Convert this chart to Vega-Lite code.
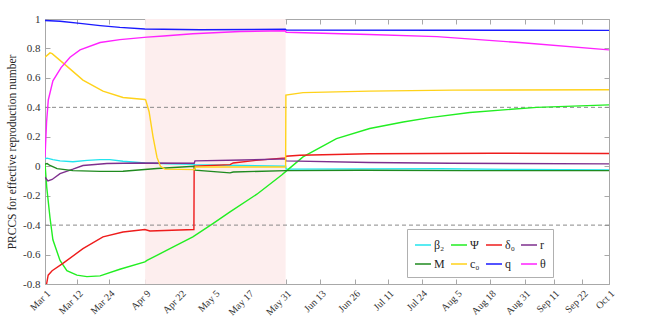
{
  "$schema": "https://vega.github.io/schema/vega-lite/v6.json",
  "width": 564,
  "height": 265,
  "autosize": {"type": "none"},
  "padding": {"left": 45, "top": 19, "right": 38, "bottom": 35},
  "config": {
    "font": "Liberation Serif",
    "view": {"stroke": "#a8a8a8", "strokeWidth": 1},
    "legend": {"columnPadding": 3, "rowPadding": 4, "padding": 7, "gridAlign": "each"},
    "axis": {
      "domain": false,
      "grid": false,
      "tickColor": "#a8a8a8",
      "tickSize": -5,
      "labelFont": "Liberation Serif",
      "labelColor": "#333333",
      "labelFontSize": 11,
      "titleFont": "Liberation Serif",
      "titleFontWeight": "normal",
      "titleColor": "#262626",
      "titleFontSize": 11.5
    }
  },
  "datasets": {
    "band": [{"a": 38, "b": 91.3}],
    "refs": [{"y": 0.4}, {"y": -0.4}],
    "lines": [
      {"s": "β₂", "d": 0, "v": 0.05}, {"s": "β₂", "d": 0.8, "v": 0.055}, {"s": "β₂", "d": 3, "v": 0.045}, {"s": "β₂", "d": 5.7, "v": 0.036}, {"s": "β₂", "d": 10.6, "v": 0.03}, {"s": "β₂", "d": 16, "v": 0.04}, {"s": "β₂", "d": 20.9, "v": 0.045}, {"s": "β₂", "d": 24.6, "v": 0.045}, {"s": "β₂", "d": 29.6, "v": 0.034}, {"s": "β₂", "d": 37.9, "v": 0.022}, {"s": "β₂", "d": 47, "v": 0.017}, {"s": "β₂", "d": 56.6, "v": 0.013}, {"s": "β₂", "d": 56.9, "v": 0.01}, {"s": "β₂", "d": 91.3, "v": 0.0}, {"s": "β₂", "d": 91.5, "v": -0.02}, {"s": "β₂", "d": 120, "v": -0.018}, {"s": "β₂", "d": 150, "v": -0.017}, {"s": "β₂", "d": 180, "v": -0.022}, {"s": "β₂", "d": 214, "v": -0.025},

      {"s": "Ψ", "d": 0, "v": 0.02}, {"s": "Ψ", "d": 0.64, "v": -0.14}, {"s": "Ψ", "d": 1.9, "v": -0.35}, {"s": "Ψ", "d": 3, "v": -0.5}, {"s": "Ψ", "d": 5.7, "v": -0.64}, {"s": "Ψ", "d": 8.3, "v": -0.71}, {"s": "Ψ", "d": 12.1, "v": -0.74}, {"s": "Ψ", "d": 15.9, "v": -0.75}, {"s": "Ψ", "d": 20.9, "v": -0.745}, {"s": "Ψ", "d": 28.4, "v": -0.7}, {"s": "Ψ", "d": 37.9, "v": -0.65}, {"s": "Ψ", "d": 38.7, "v": -0.64}, {"s": "Ψ", "d": 48.5, "v": -0.55}, {"s": "Ψ", "d": 56.1, "v": -0.48}, {"s": "Ψ", "d": 63.7, "v": -0.39}, {"s": "Ψ", "d": 70.2, "v": -0.31}, {"s": "Ψ", "d": 80.4, "v": -0.19}, {"s": "Ψ", "d": 89.8, "v": -0.06}, {"s": "Ψ", "d": 91.4, "v": -0.035}, {"s": "Ψ", "d": 97.9, "v": 0.063}, {"s": "Ψ", "d": 110.6, "v": 0.188}, {"s": "Ψ", "d": 123.2, "v": 0.256}, {"s": "Ψ", "d": 135.9, "v": 0.3}, {"s": "Ψ", "d": 146, "v": 0.33}, {"s": "Ψ", "d": 161.2, "v": 0.365}, {"s": "Ψ", "d": 186.6, "v": 0.4}, {"s": "Ψ", "d": 214, "v": 0.417},

      {"s": "δ₀", "d": 0.6, "v": -0.8}, {"s": "δ₀", "d": 1.2, "v": -0.74}, {"s": "δ₀", "d": 2.7, "v": -0.71}, {"s": "δ₀", "d": 6.8, "v": -0.66}, {"s": "δ₀", "d": 14.4, "v": -0.56}, {"s": "δ₀", "d": 22, "v": -0.48}, {"s": "δ₀", "d": 29.6, "v": -0.447}, {"s": "δ₀", "d": 37.9, "v": -0.43}, {"s": "δ₀", "d": 39.8, "v": -0.44}, {"s": "δ₀", "d": 56.5, "v": -0.43}, {"s": "δ₀", "d": 56.6, "v": 0.0}, {"s": "δ₀", "d": 70.2, "v": 0.011}, {"s": "δ₀", "d": 71.4, "v": 0.022}, {"s": "δ₀", "d": 80, "v": 0.04}, {"s": "δ₀", "d": 91.2, "v": 0.057}, {"s": "δ₀", "d": 91.4, "v": 0.068}, {"s": "δ₀", "d": 96.7, "v": 0.075}, {"s": "δ₀", "d": 123, "v": 0.085}, {"s": "δ₀", "d": 170, "v": 0.088}, {"s": "δ₀", "d": 214, "v": 0.086},

      {"s": "r", "d": 0, "v": -0.075}, {"s": "r", "d": 1.1, "v": -0.1}, {"s": "r", "d": 2.7, "v": -0.09}, {"s": "r", "d": 5.7, "v": -0.05}, {"s": "r", "d": 10.6, "v": -0.02}, {"s": "r", "d": 14.4, "v": 0.005}, {"s": "r", "d": 23.5, "v": 0.018}, {"s": "r", "d": 36, "v": 0.022}, {"s": "r", "d": 56.6, "v": 0.02}, {"s": "r", "d": 56.9, "v": 0.036}, {"s": "r", "d": 75, "v": 0.042}, {"s": "r", "d": 91.2, "v": 0.05}, {"s": "r", "d": 91.4, "v": 0.036}, {"s": "r", "d": 123, "v": 0.025}, {"s": "r", "d": 153.6, "v": 0.02}, {"s": "r", "d": 214, "v": 0.016},

      {"s": "M", "d": 0, "v": 0.014}, {"s": "M", "d": 0.8, "v": 0.018}, {"s": "M", "d": 1.9, "v": 0.005}, {"s": "M", "d": 4.6, "v": -0.016}, {"s": "M", "d": 10.6, "v": -0.03}, {"s": "M", "d": 20.9, "v": -0.035}, {"s": "M", "d": 29.6, "v": -0.034}, {"s": "M", "d": 42.5, "v": -0.015}, {"s": "M", "d": 56.6, "v": 0.0}, {"s": "M", "d": 56.9, "v": -0.027}, {"s": "M", "d": 70.2, "v": -0.045}, {"s": "M", "d": 71.4, "v": -0.039}, {"s": "M", "d": 91.4, "v": -0.03}, {"s": "M", "d": 120, "v": -0.027}, {"s": "M", "d": 160, "v": -0.03}, {"s": "M", "d": 214, "v": -0.03},

      {"s": "c₀", "d": 0, "v": 0.74}, {"s": "c₀", "d": 1.9, "v": 0.77}, {"s": "c₀", "d": 2.7, "v": 0.765}, {"s": "c₀", "d": 7.6, "v": 0.69}, {"s": "c₀", "d": 14.4, "v": 0.585}, {"s": "c₀", "d": 22, "v": 0.51}, {"s": "c₀", "d": 29.6, "v": 0.467}, {"s": "c₀", "d": 37.9, "v": 0.453}, {"s": "c₀", "d": 38.2, "v": 0.45}, {"s": "c₀", "d": 39.5, "v": 0.37}, {"s": "c₀", "d": 41, "v": 0.2}, {"s": "c₀", "d": 42.5, "v": 0.06}, {"s": "c₀", "d": 43.8, "v": 0.0}, {"s": "c₀", "d": 45.5, "v": -0.02}, {"s": "c₀", "d": 56.8, "v": -0.023}, {"s": "c₀", "d": 57, "v": -0.005}, {"s": "c₀", "d": 91.3, "v": -0.005}, {"s": "c₀", "d": 91.4, "v": 0.483}, {"s": "c₀", "d": 97.9, "v": 0.5}, {"s": "c₀", "d": 123, "v": 0.51}, {"s": "c₀", "d": 154.7, "v": 0.517}, {"s": "c₀", "d": 214, "v": 0.519},

      {"s": "q", "d": 0, "v": 0.99}, {"s": "q", "d": 5.7, "v": 0.985}, {"s": "q", "d": 13.3, "v": 0.97}, {"s": "q", "d": 20.9, "v": 0.955}, {"s": "q", "d": 28.4, "v": 0.943}, {"s": "q", "d": 37.9, "v": 0.932}, {"s": "q", "d": 58.8, "v": 0.927}, {"s": "q", "d": 91.2, "v": 0.93}, {"s": "q", "d": 91.5, "v": 0.925}, {"s": "q", "d": 150, "v": 0.924}, {"s": "q", "d": 214, "v": 0.923},

      {"s": "θ", "d": 0, "v": 0.06}, {"s": "θ", "d": 0.6, "v": 0.3}, {"s": "θ", "d": 1.25, "v": 0.45}, {"s": "θ", "d": 3, "v": 0.58}, {"s": "θ", "d": 6.1, "v": 0.67}, {"s": "θ", "d": 9.5, "v": 0.74}, {"s": "θ", "d": 13.3, "v": 0.79}, {"s": "θ", "d": 20.9, "v": 0.84}, {"s": "θ", "d": 28.4, "v": 0.86}, {"s": "θ", "d": 38.7, "v": 0.877}, {"s": "θ", "d": 45, "v": 0.885}, {"s": "θ", "d": 56.1, "v": 0.9}, {"s": "θ", "d": 74, "v": 0.915}, {"s": "θ", "d": 91.2, "v": 0.92}, {"s": "θ", "d": 91.5, "v": 0.91}, {"s": "θ", "d": 123, "v": 0.895}, {"s": "θ", "d": 148.7, "v": 0.88}, {"s": "θ", "d": 180, "v": 0.84}, {"s": "θ", "d": 214, "v": 0.79}
    ]
  },
  "layer": [
    {
      "data": {"name": "band"},
      "mark": {"type": "rect", "color": "#fdeeee"},
      "encoding": {
        "x": {
          "field": "a", "type": "quantitative",
          "scale": {"domain": [0, 214], "nice": false, "zero": false},
          "axis": {
            "orient": "bottom",
            "title": null,
            "values": [0, 12.25, 24.3, 38, 51.4, 64.2, 77.1, 91.3, 104.5, 117.5, 130.2, 142.9, 156.1, 169, 182, 193, 203.9, 214],
            "labelExpr": "['Mar 1','Mar 12','Mar 24','Apr 9','Apr 22','May 5','May 17','May 31','Jun 13','Jun 26','Jul 11','Jul 24','Aug 5','Aug 18','Aug 31','Sep 11','Sep 22','Oct 1'][indexof([0, 12.25, 24.3, 38, 51.4, 64.2, 77.1, 91.3, 104.5, 117.5, 130.2, 142.9, 156.1, 169, 182, 193, 203.9, 214], datum.value)]",
            "labelAngle": -45,
            "labelFontSize": 10,
            "labelPadding": 9,
            "labelOverlap": false,
            "labelBound": false,
            "labelFlush": false
          }
        },
        "x2": {"field": "b"}
      }
    },
    {
      "data": {"name": "refs"},
      "mark": {"type": "rule", "strokeDash": [4, 3], "color": "#8a8a8a", "strokeWidth": 1},
      "encoding": {
        "y": {
          "field": "y", "type": "quantitative",
          "scale": {"domain": [-0.8, 1], "nice": false, "zero": false},
          "axis": {"orient": "right", "title": null, "labels": false, "values": [-0.8, -0.6, -0.4, -0.2, 0, 0.2, 0.4, 0.6, 0.8, 1]}
        }
      }
    },
    {
      "data": {"name": "lines"},
      "mark": {"type": "line", "strokeWidth": 1.4, "clip": true},
      "encoding": {
        "x": {
          "field": "d", "type": "quantitative",
          "scale": {"domain": [0, 214], "nice": false, "zero": false},
          "axis": {"orient": "top", "title": null, "labels": false, "values": [0, 12.25, 24.3, 38, 51.4, 64.2, 77.1, 91.3, 104.5, 117.5, 130.2, 142.9, 156.1, 169, 182, 193, 203.9, 214]}
        },
        "y": {
          "field": "v", "type": "quantitative",
          "scale": {"domain": [-0.8, 1], "nice": false, "zero": false},
          "axis": {
            "orient": "left",
            "title": "PRCCS for effective reproduction number",
            "values": [-0.8, -0.6, -0.4, -0.2, 0, 0.2, 0.4, 0.6, 0.8, 1],
            "labelExpr": "'' + round(datum.value * 10) / 10",
            "labelPadding": 10,
            "titlePadding": 5
          }
        },
        "color": {
          "field": "s", "type": "nominal",
          "scale": {
            "domain": ["β₂", "Ψ", "δ₀", "r", "M", "c₀", "q", "θ"],
            "range": ["#22e4ee", "#22ee22", "#ee1c1c", "#7e2f8e", "#1f8a1f", "#ffd21a", "#1a1aff", "#ff22ff"]
          },
          "legend": {
            "orient": "none",
            "legendX": 362,
            "legendY": 210,
            "columns": 4,
            "direction": "horizontal",
            "title": null,
            "symbolType": "stroke",
            "symbolSize": 256,
            "symbolStrokeWidth": 1.5,
            "labelFont": "Liberation Serif",
            "labelFontSize": 12,
            "labelColor": "#262626",
            "fillColor": "white",
            "strokeColor": "#b0b0b0",
            "labelOffset": 2
          }
        }
      }
    }
  ],
  "resolve": {"axis": {"x": "independent", "y": "independent"}}
}
